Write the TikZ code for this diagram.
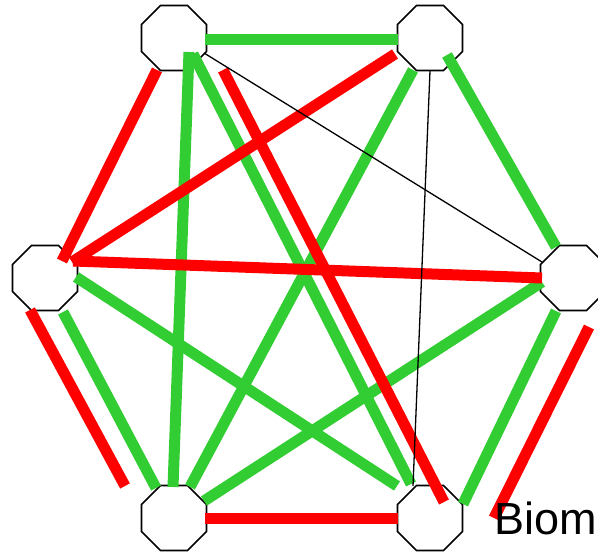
\documentclass[tikz,border=0pt]{standalone}
\usepackage{fontspec}
\setmainfont{Liberation Sans}
\usetikzlibrary{shapes.geometric}
\definecolor{gline}{RGB}{50,205,50}
\definecolor{rline}{RGB}{255,0,0}
\tikzset{
  oct/.style={regular polygon, regular polygon sides=8, minimum size=70.4pt, inner sep=0pt, draw=black, line width=1.6pt, fill=white},
  gedge/.style={draw=gline, line width=11pt},
  redge/.style={draw=rline, line width=11pt},
  bedge/.style={draw=black, line width=1.3pt},
}
\begin{document}
\begin{tikzpicture}[x=1pt,y=-1pt]
\useasboundingbox (0,0) rectangle (598,554);
\begin{scope}
\clip (0,0) rectangle (598,554);
% nodes
\node[oct] (tl) at (174,38) {};
\node[oct] (tr) at (430,38) {};
\node[oct] (l) at (45,278) {};
\node[oct] (r) at (573,278) {};
\node[oct] (bl) at (174,518) {};
\node[oct] (br) at (430,518) {};
% endpoints
\coordinate (g1a) at (205,39);  \coordinate (g1b) at (398,39);
\coordinate (g3a) at (189,52);  \coordinate (g3b) at (173,487);
\coordinate (g4a) at (193,54);  \coordinate (g4b) at (411,484);
\coordinate (g8a) at (413,70);  \coordinate (g8b) at (190,487);
\coordinate (g10a) at (447,55); \coordinate (g10b) at (556,247);
\coordinate (g12a) at (76,277); \coordinate (g12b) at (397,486);
\coordinate (g13a) at (63,312); \coordinate (g13b) at (156,488);
\coordinate (g15a) at (542,282); \coordinate (g15b) at (204,501);
\coordinate (g16a) at (556,311); \coordinate (g16b) at (463,504);
\coordinate (r2a) at (157,70);  \coordinate (r2b) at (62,261);
\coordinate (r5a) at (223,70);  \coordinate (r5b) at (444,502);
\coordinate (r7a) at (395,54);  \coordinate (r7b) at (72,262);
\coordinate (r11a) at (73,261); \coordinate (r11b) at (542,278);
\coordinate (r14a) at (30,310); \coordinate (r14b) at (125,486);
\coordinate (r17a) at (589,327); \coordinate (r17b) at (494,518);
\coordinate (r18a) at (205,518); \coordinate (r18b) at (398,518);
\coordinate (b6a) at (204,53);  \coordinate (b6b) at (542,262);
\coordinate (b9a) at (430,71);  \coordinate (b9b) at (413,486);
% green edges
\draw[gedge] (g1a) -- (g1b);
\draw[gedge] (g3a) -- (g3b);
\draw[gedge] (g4a) -- (g4b);
\draw[gedge] (g8a) -- (g8b);
\draw[gedge] (g10a) -- (g10b);
\draw[gedge] (g12a) -- (g12b);
\draw[gedge] (g13a) -- (g13b);
\draw[gedge] (g15a) -- (g15b);
\draw[gedge] (g16a) -- (g16b);
% red edges
\draw[redge] (r2a) -- (r2b);
\draw[redge] (r5a) -- (r5b);
\draw[redge] (r7a) -- (r7b);
\draw[redge] (r11a) -- (r11b);
\draw[redge] (r14a) -- (r14b);
\draw[redge] (r17a) -- (r17b);
\draw[redge] (r18a) -- (r18b);
% black thin edges
\draw[bedge] (b6a) -- (b6b);
\draw[bedge] (b9a) -- (b9b);
% label
\node[anchor=base west, inner sep=0pt, font=\fontsize{45}{52}\selectfont] (lbl) at (494,534) {Biom};
\end{scope}
\end{tikzpicture}
\end{document}
